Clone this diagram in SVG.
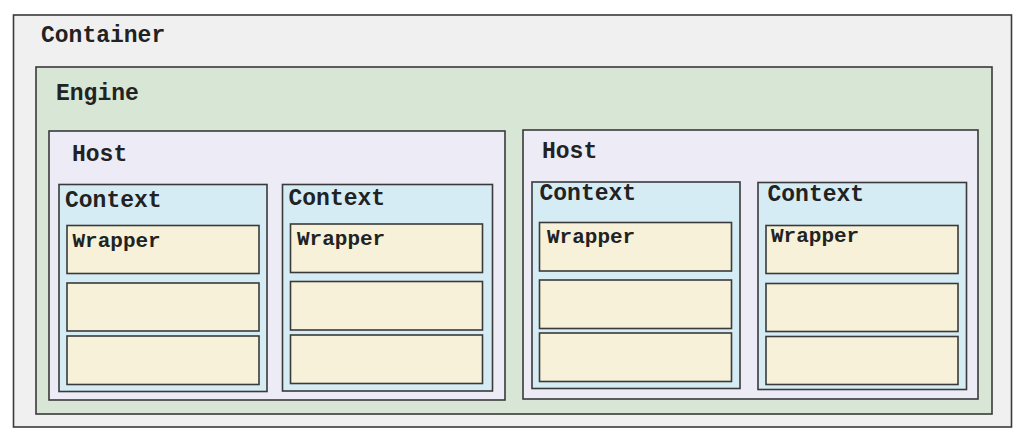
<svg xmlns="http://www.w3.org/2000/svg" width="1031" height="439" viewBox="0 0 1031 439">
<style>
rect{stroke:#3a3a3a;stroke-width:1.6}
rect.bg{fill:#ffffff;stroke:none}
.container{fill:#f0f0f0}
.engine{fill:#d7e6d5}
.host{fill:#ecebf6}
.context{fill:#d6ecf5}
.wrapper{fill:#f6f1d8}
text{font-family:"Liberation Mono","Courier New",monospace;font-weight:bold;fill:#222;font-size:23px}
.w{font-size:21px}
</style>
<rect class="bg" x="0" y="0" width="1031" height="439"/>
<g id="container">
<rect class="container" x="13.5" y="15" width="998" height="412"/>
<text x="41" y="41.5">Container</text>
</g>
<g id="engine">
<rect class="engine" x="36" y="67" width="956" height="347"/>
<text x="56" y="100">Engine</text>
</g>
<g id="host1">
<rect class="host" x="49" y="131" width="456" height="269"/>
<text x="72" y="160.5">Host</text>
</g>
<g id="host2">
<rect class="host" x="523" y="130" width="455" height="269"/>
<text x="542" y="157.5">Host</text>
</g>
<g id="context1">
<rect class="context" x="59" y="184.5" width="208" height="207"/>
<text x="65" y="207">Context</text>
</g>
<g id="context2">
<rect class="context" x="282.5" y="184.5" width="210" height="206.5"/>
<text x="288.5" y="205">Context</text>
</g>
<g id="context3">
<rect class="context" x="532" y="182" width="208" height="206.5"/>
<text x="539.5" y="199.5">Context</text>
</g>
<g id="context4">
<rect class="context" x="758" y="182.5" width="208.5" height="207"/>
<text x="767.5" y="201">Context</text>
</g>
<g id="wrapper1a"><rect class="wrapper" x="67" y="225.5" width="192" height="48"/><text class="w" x="72.5" y="246.5">Wrapper</text></g>
<g id="wrapper1b"><rect class="wrapper" x="67" y="283" width="192" height="48"/></g>
<g id="wrapper1c"><rect class="wrapper" x="67" y="336" width="192" height="48.5"/></g>
<g id="wrapper2a"><rect class="wrapper" x="290.5" y="224" width="192" height="48.5"/><text class="w" x="297" y="245">Wrapper</text></g>
<g id="wrapper2b"><rect class="wrapper" x="290.5" y="281.5" width="192" height="48.5"/></g>
<g id="wrapper2c"><rect class="wrapper" x="290.5" y="335" width="192" height="48.5"/></g>
<g id="wrapper3a"><rect class="wrapper" x="539.5" y="222.5" width="192" height="48.5"/><text class="w" x="547" y="242.5">Wrapper</text></g>
<g id="wrapper3b"><rect class="wrapper" x="539.5" y="280" width="192" height="48.5"/></g>
<g id="wrapper3c"><rect class="wrapper" x="539.5" y="333" width="192" height="48.5"/></g>
<g id="wrapper4a"><rect class="wrapper" x="766" y="225.5" width="192" height="48"/><text class="w" x="771" y="242">Wrapper</text></g>
<g id="wrapper4b"><rect class="wrapper" x="766" y="283.5" width="192" height="48"/></g>
<g id="wrapper4c"><rect class="wrapper" x="766" y="336.5" width="192" height="48"/></g>
<g id="connectors"></g>
</svg>
